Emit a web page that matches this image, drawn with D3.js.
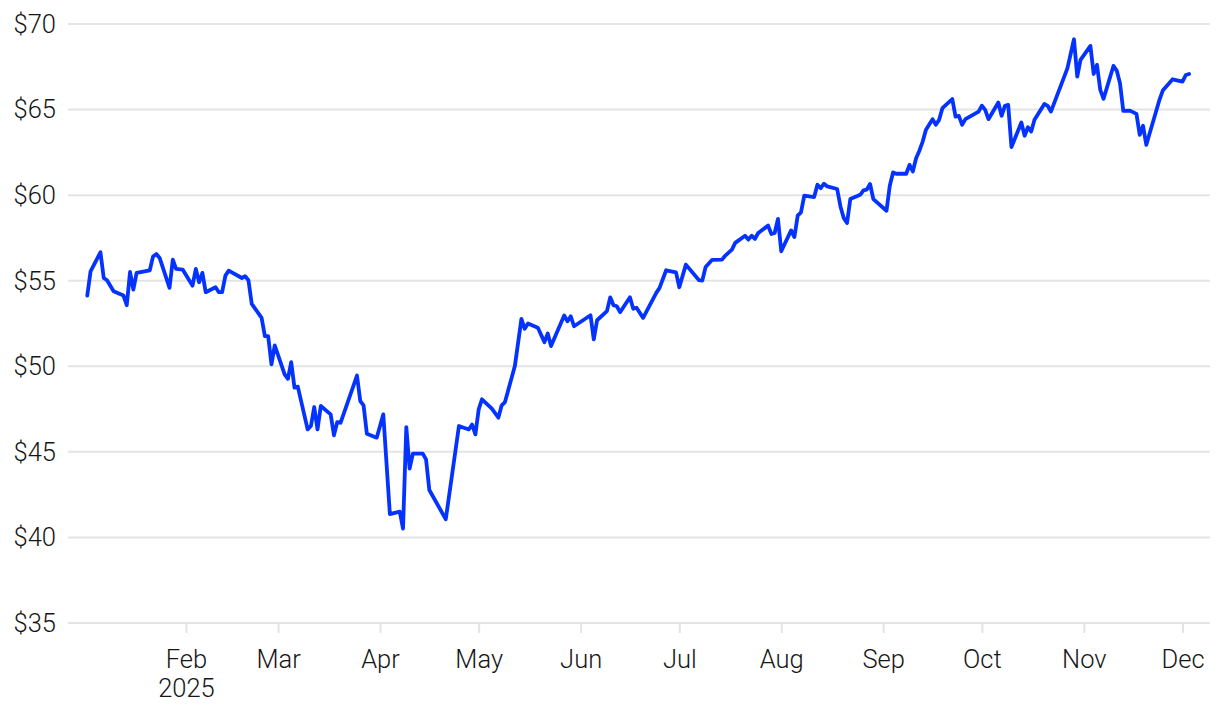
<!DOCTYPE html>
<html>
<head>
<meta charset="utf-8">
<script src="https://cdn.jsdelivr.net/npm/d3@7"></script>
<style>
  html, body { margin: 0; padding: 0; background: #fff; }
  svg { display: block; }
  .lbl { font-family: Roboto, "Liberation Sans", Arial, sans-serif; font-weight: 300; font-size: 25.5px; fill: #161616; }
</style>
</head>
<body>
<svg id="chart" width="1220" height="712"></svg>
<script>
const dates = [
  "2025-01-02","2025-01-03","2025-01-06","2025-01-07","2025-01-08","2025-01-10","2025-01-13","2025-01-14","2025-01-15","2025-01-16",
  "2025-01-17","2025-01-21","2025-01-22","2025-01-23","2025-01-24","2025-01-27","2025-01-28","2025-01-29","2025-01-31","2025-02-03",
  "2025-02-04","2025-02-05","2025-02-06","2025-02-07","2025-02-10","2025-02-11","2025-02-12","2025-02-13","2025-02-14","2025-02-18",
  "2025-02-19","2025-02-20","2025-02-21","2025-02-24","2025-02-25","2025-02-26","2025-02-27","2025-02-28","2025-03-03","2025-03-04",
  "2025-03-05","2025-03-06","2025-03-07","2025-03-10","2025-03-11","2025-03-12","2025-03-13","2025-03-14","2025-03-17","2025-03-18",
  "2025-03-19","2025-03-20","2025-03-25","2025-03-26","2025-03-27","2025-03-28","2025-03-31","2025-04-02","2025-04-04","2025-04-07",
  "2025-04-08","2025-04-09","2025-04-10","2025-04-11","2025-04-14","2025-04-15","2025-04-16","2025-04-21","2025-04-25","2025-04-28",
  "2025-04-29","2025-04-30","2025-05-01","2025-05-02","2025-05-05","2025-05-07","2025-05-08","2025-05-09","2025-05-12","2025-05-14",
  "2025-05-15","2025-05-16","2025-05-19","2025-05-21","2025-05-22","2025-05-23","2025-05-27","2025-05-28","2025-05-29","2025-05-30",
  "2025-06-04","2025-06-05","2025-06-06","2025-06-09","2025-06-10","2025-06-11","2025-06-12","2025-06-13","2025-06-16","2025-06-17",
  "2025-06-18","2025-06-20","2025-06-24","2025-06-25","2025-06-27","2025-06-30","2025-07-01","2025-07-03","2025-07-07","2025-07-08",
  "2025-07-09","2025-07-11","2025-07-14","2025-07-15","2025-07-17","2025-07-18","2025-07-21","2025-07-22","2025-07-23","2025-07-24",
  "2025-07-25","2025-07-28","2025-07-29","2025-07-30","2025-07-31","2025-08-01","2025-08-04","2025-08-05","2025-08-06","2025-08-07",
  "2025-08-08","2025-08-11","2025-08-12","2025-08-13","2025-08-14","2025-08-15","2025-08-18","2025-08-19","2025-08-20","2025-08-21",
  "2025-08-22","2025-08-25","2025-08-26","2025-08-27","2025-08-28","2025-08-29","2025-09-02","2025-09-03","2025-09-04","2025-09-05",
  "2025-09-08","2025-09-09","2025-09-10","2025-09-11","2025-09-12","2025-09-13","2025-09-14","2025-09-16","2025-09-17","2025-09-18",
  "2025-09-19","2025-09-22","2025-09-23","2025-09-24","2025-09-25","2025-09-26","2025-09-30","2025-10-01","2025-10-02","2025-10-03",
  "2025-10-06","2025-10-07","2025-10-08","2025-10-09","2025-10-10","2025-10-13","2025-10-14","2025-10-15","2025-10-16","2025-10-17",
  "2025-10-20","2025-10-21","2025-10-22","2025-10-27","2025-10-29","2025-10-30","2025-10-31","2025-11-03","2025-11-04","2025-11-05",
  "2025-11-06","2025-11-07","2025-11-10","2025-11-11","2025-11-12","2025-11-13","2025-11-15","2025-11-17","2025-11-18","2025-11-19",
  "2025-11-20","2025-11-24","2025-11-25","2025-11-28","2025-12-01","2025-12-02","2025-12-03"
];
const prices = [
  54.13,55.55,56.66,55.16,55.03,54.38,54.13,53.57,55.51,54.48,
  55.46,55.61,56.42,56.56,56.33,54.58,56.23,55.69,55.65,54.71,
  55.69,54.91,55.46,54.33,54.62,54.33,54.33,55.30,55.59,55.16,
  55.26,55.03,53.65,52.83,51.76,51.76,50.11,51.22,49.53,49.27,
  50.24,48.75,48.81,46.31,46.51,47.62,46.31,47.68,47.19,45.97,
  46.74,46.70,49.46,47.97,47.72,46.06,45.83,47.19,41.36,41.51,
  40.52,46.45,44.02,44.90,44.90,44.56,42.77,41.06,46.51,46.31,
  46.60,46.02,47.48,48.07,47.52,47.00,47.72,47.91,50.01,52.77,
  52.19,52.50,52.25,51.41,51.92,51.18,52.97,52.63,52.92,52.34,
  52.98,51.57,52.69,53.22,54.03,53.57,53.51,53.16,54.03,53.36,
  53.42,52.83,54.29,54.58,55.61,55.49,54.62,55.94,55.03,55.01,
  55.80,56.22,56.23,56.47,56.82,57.21,57.63,57.40,57.63,57.44,
  57.79,58.22,57.73,57.79,58.61,56.72,57.94,57.55,58.80,58.99,
  59.97,59.89,60.61,60.41,60.67,60.51,60.36,59.34,58.67,58.37,
  59.77,60.02,60.28,60.32,60.65,59.77,59.09,60.55,61.33,61.25,
  61.25,61.77,61.38,62.16,62.60,63.13,63.82,64.44,64.11,64.40,
  65.08,65.61,64.59,64.63,64.11,64.44,64.88,65.23,64.98,64.44,
  65.41,64.63,65.22,65.27,62.81,64.24,63.47,63.97,63.72,64.40,
  65.33,65.22,64.88,67.41,69.11,66.93,67.90,68.72,67.08,67.61,
  66.15,65.63,67.55,67.28,66.54,64.92,64.94,64.75,63.52,64.05,
  62.94,65.57,66.11,66.77,66.63,67.02,67.08
];
const yTicks = [35, 40, 45, 50, 55, 60, 65, 70];
const monthTicks = ["2025-02-01","2025-03-01","2025-04-01","2025-05-01","2025-06-01","2025-07-01",
                    "2025-08-01","2025-09-01","2025-10-01","2025-11-01","2025-12-01"];
const yearLabel = "2025";

const parse = d3.utcParse("%Y-%m-%d");
const data = dates.map((d, i) => ({ date: parse(d), value: prices[i] }));

const svg = d3.select("#chart");
const gridX0 = 68, gridX1 = 1210;

const x = d3.scaleUtc()
  .domain([parse("2025-01-01"), parse("2025-12-01")])
  .range([84, 1182.5]);
const y = d3.scaleLinear().domain([35, 70]).range([623, 24]);

// gridlines
svg.append("g").selectAll("line").data(yTicks).join("line")
  .attr("x1", gridX0).attr("x2", gridX1)
  .attr("y1", d => y(d)).attr("y2", d => y(d))
  .attr("stroke", "#e4e4e4").attr("stroke-width", 2);

// y labels
svg.append("g").selectAll("text").data(yTicks).join("text")
  .attr("class", "lbl")
  .attr("x", 56).attr("y", d => y(d))
  .attr("dy", "0.35em")
  .attr("text-anchor", "end")
  .text(d => "$" + d);

// x axis
const xAxis = d3.axisBottom(x)
  .tickValues(monthTicks.map(parse))
  .tickSize(10)
  .tickPadding(17)
  .tickFormat(d3.utcFormat("%b"));
const gx = svg.append("g").attr("transform", `translate(0,${y(35)})`).call(xAxis);
gx.select(".domain").remove();
gx.selectAll(".tick line").attr("stroke", "#e4e4e4").attr("stroke-width", 2);
gx.selectAll(".tick text").attr("class", "lbl").attr("fill", null);
gx.selectAll(".tick").filter((d, i) => i === 0).append("text")
  .attr("class", "lbl")
  .attr("y", 56).attr("dy", "0.71em")
  .attr("text-anchor", "middle")
  .text(yearLabel);

// line
const line = d3.line().x(d => x(d.date)).y(d => y(d.value)).curve(d3.curveLinear);
svg.append("path").datum(data)
  .attr("d", line)
  .attr("fill", "none")
  .attr("stroke", "#0433ff")
  .attr("stroke-width", 3.8)
  .attr("stroke-linejoin", "round")
  .attr("stroke-linecap", "round");
</script>
</body>
</html>
